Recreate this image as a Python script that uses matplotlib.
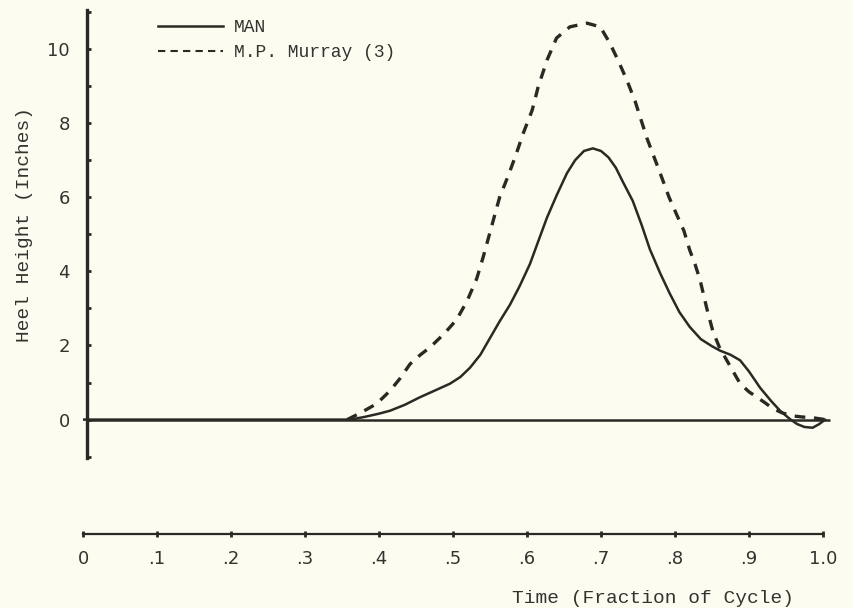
import numpy as np
import matplotlib as mpl
import matplotlib.pyplot as plt
from matplotlib.lines import Line2D

# MAN (solid)
man_x = [0.0, 0.361, 0.38, 0.40, 0.415, 0.435, 0.455, 0.475, 0.496, 0.51, 0.523, 0.537, 0.55,
         0.563, 0.577, 0.59, 0.604, 0.615, 0.627, 0.64, 0.654, 0.665, 0.677, 0.689, 0.70,
         0.71, 0.72, 0.73, 0.743, 0.755, 0.766, 0.78, 0.793, 0.806, 0.82, 0.835, 0.85,
         0.861, 0.875, 0.888, 0.90, 0.915, 0.93, 0.942, 0.955, 0.965, 0.975, 0.986, 0.995, 1.003]
man_y = [0.0, 0.0, 0.07, 0.16, 0.24, 0.4, 0.6, 0.78, 0.97, 1.15, 1.4, 1.75, 2.2,
         2.65, 3.1, 3.6, 4.2, 4.8, 5.45, 6.05, 6.65, 7.0, 7.25, 7.32, 7.25,
         7.08, 6.8, 6.4, 5.9, 5.25, 4.6, 3.95, 3.4, 2.9, 2.5, 2.17, 1.98,
         1.86, 1.75, 1.6, 1.3, 0.86, 0.5, 0.24, 0.02, -0.12, -0.2, -0.22, -0.12, 0.0]

# M.P. Murray (3) (dashed)
mur_x = [0.357, 0.375, 0.397, 0.415, 0.428, 0.442, 0.456, 0.469, 0.482, 0.494, 0.505, 0.519,
         0.532, 0.541, 0.552, 0.563, 0.575, 0.586, 0.595, 0.607, 0.615, 0.627, 0.64, 0.658,
         0.681, 0.699, 0.712, 0.723, 0.735, 0.746, 0.762, 0.78, 0.792, 0.803, 0.812, 0.82,
         0.827, 0.834, 0.843, 0.851, 0.86, 0.87, 0.88, 0.888, 0.90, 0.911, 0.922, 0.932,
         0.945, 0.959, 0.972, 0.986, 1.003]
mur_y = [0.0, 0.18, 0.43, 0.78, 1.1, 1.5, 1.75, 1.95, 2.2, 2.45, 2.7, 3.2,
         3.8, 4.4, 5.2, 6.0, 6.6, 7.2, 7.73, 8.35, 8.97, 9.7, 10.3, 10.6,
         10.7, 10.6, 10.16, 9.7, 9.16, 8.6, 7.6, 6.65, 6.0, 5.5, 5.1, 4.57,
         4.2, 3.76, 3.0, 2.4, 1.95, 1.6, 1.25, 0.97, 0.75, 0.6, 0.45, 0.3,
         0.18, 0.1, 0.07, 0.05, 0.0]

x_ticks = [0, 0.1, 0.2, 0.3, 0.4, 0.5, 0.6, 0.7, 0.8, 0.9, 1.0]
x_labels = ['0', '.1', '.2', '.3', '.4', '.5', '.6', '.7', '.8', '.9', '1.0']
y_ticks = [0, 2, 4, 6, 8, 10]
y_minor = [-1, 1, 3, 5, 7, 9, 11]

ink = '#2a2a24'
paper = '#fdfcf1'
txt = '#333330'
mono = 'Liberation Mono'

fig = plt.figure(figsize=(8.54, 6.08), dpi=100, facecolor=paper)
ax = fig.add_axes([0.0972, 0.1222, 0.8838, 0.8641])
ax.set_facecolor(paper)

ax.plot(man_x, man_y, color=ink, lw=1.8, solid_joinstyle='round', solid_capstyle='round')
ax.plot(mur_x, mur_y, color=ink, lw=2.4, dashes=(3.2, 2.6), dash_joinstyle='round')
ax.hlines(0, 0.005, 1.01, color=ink, lw=1.8)

ax.set_xlim(0, 1.02)
ax.set_ylim(-3.08, 11.1)

for s in ['top', 'right']:
    ax.spines[s].set_visible(False)
ax.spines['left'].set_position(('data', 0.005))
ax.spines['left'].set_bounds(-1.03, 11.05)
ax.spines['left'].set_linewidth(2.4)
ax.spines['left'].set_color(ink)
ax.spines['bottom'].set_bounds(0, 1.0)
ax.spines['bottom'].set_linewidth(1.6)
ax.spines['bottom'].set_color(ink)

ax.set_yticks(y_ticks)
ax.set_yticks(y_minor, minor=True)
ax.set_xticks(x_ticks)
ax.set_xticklabels(x_labels)
ax.tick_params(axis='y', which='both', direction='in', length=3, width=2, color=ink,
               labelsize=13, pad=12, labelcolor=txt)
ax.tick_params(axis='x', direction='inout', length=4, width=2, color=ink,
               labelsize=13, pad=10, labelcolor=txt)

ax.set_ylabel('Heel Height (Inches)', family=mono, fontsize=14, color=txt)
ax.yaxis.set_label_coords(-0.066, 0.588)
ax.set_xlabel('Time (Fraction of Cycle)', family=mono, fontsize=14, color=txt)
ax.xaxis.set_label_coords(0.755, -0.107)

handles = [Line2D([], [], color=ink, lw=1.8),
           Line2D([], [], color=ink, lw=1.5, dashes=(3.5, 2.5))]
ax.legend(handles, ['MAN', 'M.P. Murray (3)'], loc='upper left',
          bbox_to_anchor=(158 / 854, 1 - 19 / 608), bbox_transform=fig.transFigure,
          frameon=False, prop={'family': mono, 'size': 13}, labelcolor=txt,
          handlelength=3.6, handletextpad=0.6, borderpad=0, borderaxespad=0,
          labelspacing=0.45)

fig.savefig('out.png', dpi=100, facecolor=paper)
